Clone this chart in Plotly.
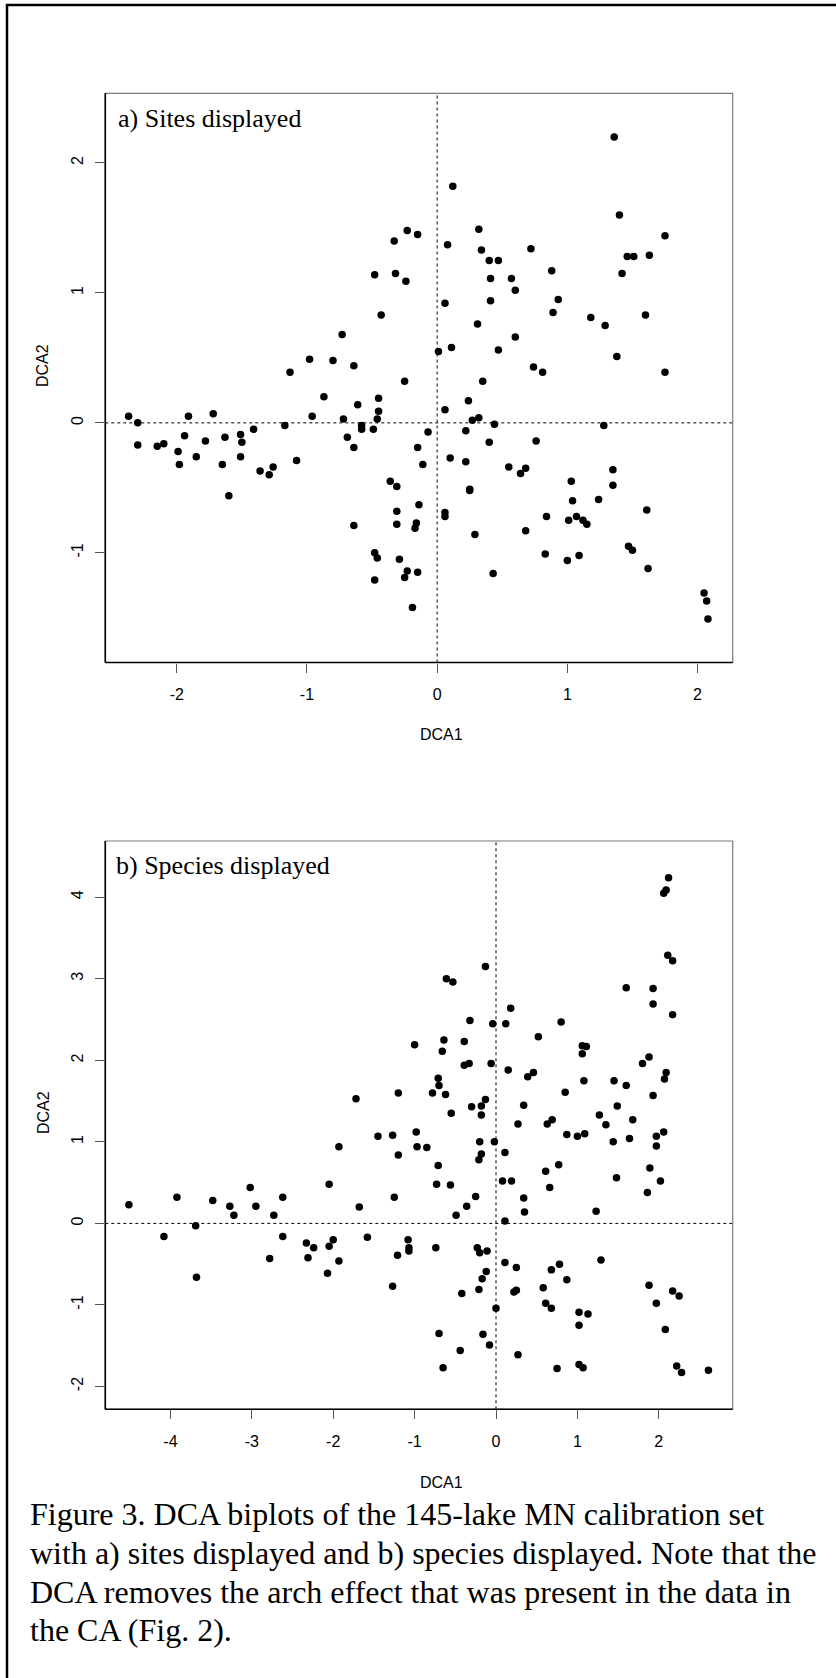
import plotly.graph_objects as go

# ---------------- data ----------------
sites_x = [
    -0.33, -0.23, -0.15, -0.48, -0.32, -0.24, -0.43, -0.73, -0.98, -0.80, -0.64, -1.13, -0.25,
    0.12, 0.08, 0.06, 0.01, 0.11,
    0.32, 0.34, 0.40, 0.47, 0.41, 0.57, 0.60, 0.41, 0.72, 0.88, 0.93, 0.89,
    0.31, 0.60, 0.47, 0.74, 0.81, 0.35,
    1.36, 1.40, 1.75, 1.46, 1.51, 1.63, 1.42, 1.18, 1.29, 1.60, 1.38, 1.75,
    -2.37, -2.30, -2.30, -2.15, -2.10, -1.99, -1.98, -1.94, -1.91, -1.85, -1.78, -1.72,
    -1.65, -1.63, -1.60, -1.51, -1.50, -1.51, -1.41, -1.36, -1.29, -1.26, -1.17, -1.08,
    -0.96, -0.87, -0.72, -0.69, -0.64, -0.61, -0.58, -0.58, -0.49, -0.46, -0.45, -0.45,
    -0.36, -0.31, -0.31, -0.31, -0.64, -0.48, -0.46, -0.48, -0.29,
    -0.23, -0.25,
    -0.15, -0.19, -0.17, -0.16, -0.14, -0.11, -0.15, -0.07,
    0.06, 0.24, 0.27, 0.32, 0.44, 0.22, 0.40, 0.76, 0.10, 0.22, 0.25, 0.25, 0.06, 0.06, 0.29, 0.43,
    0.55, 0.64, 0.68, 0.68, 0.84, 0.83, 1.00, 1.01, 1.03, 1.04, 1.07, 1.09, 1.12, 1.15, 1.24,
    1.28, 1.35, 1.35, 1.47, 1.50, 1.61, 1.62, 2.05, 2.07, 2.08,
]
sites_y = [
    1.40, 1.48, 1.45, 1.14, 1.15, 1.09, 0.83, 0.68, 0.49, 0.48, 0.44, 0.39, 0.32,
    1.82, 1.37, 0.92, 0.55, 0.58,
    1.49, 1.33, 1.25, 1.25, 1.11, 1.11, 1.02, 0.94, 1.34, 1.17, 0.95, 0.85,
    0.76, 0.66, 0.56, 0.43, 0.39, 0.32,
    2.20, 1.60, 1.44, 1.28, 1.28, 1.29, 1.15, 0.81, 0.75, 0.83, 0.51, 0.39,
    0.05, 0.00, -0.17, -0.18, -0.16, -0.22, -0.32, -0.10, 0.05, -0.26, -0.14, 0.07,
    -0.32, -0.11, -0.56, -0.09, -0.15, -0.26, -0.05, -0.37, -0.40, -0.34, -0.02, -0.29,
    0.05, 0.20, 0.03, -0.11, -0.19, 0.14, -0.02, -0.05, -0.05, 0.03, 0.19, 0.09,
    -0.45, -0.49, -0.68, -0.78, -0.79, -1.00, -1.04, -1.21, -1.05,
    -1.14, -1.19,
    -1.15, -1.42, -0.81, -0.77, -0.63, -0.32, -0.19, -0.07,
    0.10, 0.17, 0.02, 0.04, -0.01, -0.06, -0.15, -0.14, -0.27, -0.30, -0.51, -0.52, -0.69, -0.72, -0.86, -1.16,
    -0.34, -0.39, -0.35, -0.83, -0.72, -1.01, -1.06, -0.75, -0.45, -0.60, -0.72, -1.02, -0.75, -0.78, -0.59,
    -0.02, -0.36, -0.48, -0.95, -0.98, -0.67, -1.12, -1.31, -1.37, -1.51,
]

species_x = [
    -1.72, -1.20,
    -1.00, -0.61, -0.53, -0.13, -0.32, -0.04, -0.64, -0.66, -0.39, -0.39, -0.33, -0.06,
    -0.71, -0.70, -0.78, -0.62, -0.55, -0.30, -0.18, -0.13, -0.18,
    0.18, 0.12, 0.80, 0.52, 1.06, 1.11, 1.06, 0.15, 0.39, 0.46, 1.08, 0.85, 0.34,
    1.45, 1.60, 1.80, 1.88, 1.93, 1.49, 1.27, 1.68, 1.35, 2.09, 2.07,
    1.60, 1.93, 1.93, 2.17, 2.11, 2.17, 2.12, 2.09, 2.06,
    0.27, 0.63, 0.69,
    -4.51, -4.08, -3.92, -3.69, -3.68, -3.48, -3.27, -3.22, -3.02, -2.95, -2.73, -2.62,
    -2.62, -2.78, -2.33, -2.24, -2.31, -2.05, -1.93, -2.00, -2.05, -1.93, -2.07, -1.68,
    -1.58, -1.45, -1.27, -1.20, -1.25, -1.27, -1.21,
    -0.98, -0.97, -0.85, -0.71, -0.73, -0.56, -0.36, -0.49, -0.25,
    -0.20, -0.18, -0.21, -0.02, 0.11, 0.08, 0.19, 0.34, 0.35, 0.11,
    0.87, 1.00, 1.09, 1.44, 1.64, 1.97, 2.06, 1.97,
    0.61, 0.77, 0.66, 1.48, 1.89, 2.02, 1.86, 1.23,
    -1.08, -1.07, -1.07, -0.74, -0.23, -0.20, -0.11, -0.12, -0.17, -0.21, -0.42, 0.00,
    -0.70, -0.44, -0.65, -0.16, -0.08,
    0.11, 0.25, 0.22, 0.25, 0.27,
    0.58, 0.68, 0.78, 0.87, 0.61, 0.68, 0.75,
    1.02, 1.13, 1.02, 1.02, 1.07,
    1.29, 1.88, 1.97, 2.17, 2.25, 2.08, 2.22, 2.28, 2.61,
]
species_y = [
    1.53, 1.60,
    2.19, 3.00, 2.96, 3.15, 2.49, 2.45, 2.25, 2.11, 2.23, 1.94, 1.96, 1.96,
    1.78, 1.69, 1.60, 1.58, 1.35, 1.43, 1.44, 1.52, 1.33,
    2.64, 2.45, 2.47, 2.29, 2.18, 2.17, 2.08, 1.88, 1.80, 1.85, 1.75, 1.61, 1.45,
    1.75, 1.69, 1.96, 2.04, 1.57, 1.44, 1.33, 1.27, 1.21, 1.85, 1.77,
    2.89, 2.88, 2.69, 2.56, 3.29, 3.22, 4.24, 4.09, 4.05,
    1.22, 1.22, 1.27,
    0.23, -0.16, 0.32, -0.03, -0.66, 0.28, 0.21, 0.10, 0.44, 0.21, 0.10, 0.32,
    -0.16, -0.43, -0.24, -0.30, -0.42, 0.48, 0.94, -0.20, -0.28, -0.46, -0.61, 0.20,
    -0.17, 1.07, 1.08, 0.84, 0.32, -0.77, -0.39,
    1.12, 0.94, 0.93, 0.71, 0.48, 0.47, 0.21, 0.10, 0.33,
    1.00, 0.85, 0.78, 1.00, 0.87, 0.52, 0.52, 0.31, 0.14, 0.03,
    1.09, 1.07, 1.10, 1.00, 1.04, 1.07, 1.12, 0.95,
    0.64, 0.72, 0.44, 0.56, 0.68, 0.52, 0.38, 0.15,
    -0.20, -0.30, -0.34, -0.30, -0.30, -0.36, -0.34, -0.59, -0.68, -0.81, -0.86, -1.04,
    -1.35, -1.56, -1.77, -1.36, -1.49,
    -0.48, -0.54, -0.84, -0.82, -1.61,
    -0.79, -0.57, -0.50, -0.69, -0.98, -1.04, -1.78,
    -1.09, -1.11, -1.25, -1.73, -1.77,
    -0.45, -0.76, -0.98, -0.83, -0.89, -1.30, -1.75, -1.83, -1.80,
]

a_xticks = [-2, -1, 0, 1, 2]
a_yticks = [-1, 0, 1, 2]
b_xticks = [-4, -3, -2, -1, 0, 1, 2]
b_yticks = [-2, -1, 0, 1, 2, 3, 4]

panel_titles = ["a) Sites displayed", "b) Species displayed"]
axis_x_title = "DCA1"
axis_y_title = "DCA2"
caption_lines = [
    "Figure 3. DCA biplots of the 145-lake MN calibration set",
    "with a) sites displayed and b) species displayed. Note that the",
    "DCA removes the arch effect that was present in the data in",
    "the CA (Fig. 2).",
]

# ---------------- layout helpers ----------------
W, H = 836, 1678
SANS = "Arial, 'Liberation Sans', sans-serif"
SERIF = "'Times New Roman', 'Liberation Serif', serif"


def px(x):
    return x / W


def py(y):
    return 1 - y / H


fig = go.Figure()
marker = dict(color="black", size=7.5, line=dict(width=0))
fig.add_trace(go.Scatter(x=sites_x, y=sites_y, mode="markers", marker=marker,
                         xaxis="x", yaxis="y", hoverinfo="skip"))
fig.add_trace(go.Scatter(x=species_x, y=species_y, mode="markers", marker=marker,
                         xaxis="x2", yaxis="y2", hoverinfo="skip"))

left, right = 105.3, 732.7
a_top, a_bot = 93.3, 662.5
b_top, b_bot = 841.0, 1409.3


def fmt(v):
    return str(v)


common = dict(showgrid=False, zeroline=False, showline=False, ticks="outside",
              ticklen=9, tickwidth=1, tickcolor="#555555",
              tickfont=dict(family=SANS, size=16, color="black"))

fig.update_layout(
    width=W, height=H, autosize=False,
    margin=dict(l=0, r=0, t=0, b=0),
    paper_bgcolor="white", plot_bgcolor="white", showlegend=False,
    xaxis=dict(domain=[px(left), px(right)], range=[-2.549, 2.27], anchor="y",
               tickvals=a_xticks, ticktext=[fmt(v) for v in a_xticks],
               ticklabelstandoff=8, **common),
    yaxis=dict(domain=[py(a_bot), py(a_top)], range=[-1.844, 2.536], anchor="x",
               tickvals=a_yticks, ticktext=[fmt(v) for v in a_yticks],
               tickangle=-90, ticklabelstandoff=6, **common),
    xaxis2=dict(domain=[px(left), px(right)], range=[-4.80, 2.908], anchor="y2",
                tickvals=b_xticks, ticktext=[fmt(v) for v in b_xticks],
                ticklabelstandoff=8, **common),
    yaxis2=dict(domain=[py(b_bot), py(b_top)], range=[-2.28, 4.69], anchor="x2",
                tickvals=b_yticks, ticktext=[fmt(v) for v in b_yticks],
                tickangle=-90, ticklabelstandoff=6, **common),
)

shapes = []
for xa, ya in (("x", "y"), ("x2", "y2")):
    xd, yd = xa + " domain", ya + " domain"
    # dotted zero lines
    shapes.append(dict(type="line", xref=xa, yref=yd, x0=0, x1=0, y0=0, y1=1,
                       line=dict(color="black", width=1, dash="dot"), layer="below"))
    shapes.append(dict(type="line", xref=xd, yref=ya, x0=0, x1=1, y0=0, y1=0,
                       line=dict(color="black", width=1, dash="dot"), layer="below"))
    # box
    shapes.append(dict(type="rect", xref=xd, yref=yd, x0=0, x1=1, y0=0, y1=1,
                       line=dict(color="#7a7a7a", width=1.2)))
    shapes.append(dict(type="line", xref=xd, yref=yd, x0=0, x1=0, y0=0, y1=1,
                       line=dict(color="black", width=1.6)))
    shapes.append(dict(type="line", xref=xd, yref=yd, x0=0, x1=1, y0=0, y1=0,
                       line=dict(color="black", width=1.6)))

# outer frame (left and top edges)
shapes.append(dict(type="line", xref="paper", yref="paper", x0=px(7), x1=px(7),
                   y0=0, y1=py(5), line=dict(color="black", width=2.5)))
shapes.append(dict(type="line", xref="paper", yref="paper", x0=px(5.8), x1=1,
                   y0=py(5), y1=py(5), line=dict(color="black", width=2.5)))
fig.update_layout(shapes=shapes)

ann = []
# panel labels
ann.append(dict(text=panel_titles[0], xref="paper", yref="paper", x=px(116), y=py(118.5),
                xanchor="left", yanchor="middle", showarrow=False,
                font=dict(family=SERIF, size=26, color="black")))
ann.append(dict(text=panel_titles[1], xref="paper", yref="paper", x=px(114), y=py(865),
                xanchor="left", yanchor="middle", showarrow=False,
                font=dict(family=SERIF, size=26, color="black")))
# axis titles
for yc in (734, 1482.7):
    ann.append(dict(text=axis_x_title, xref="paper", yref="paper", x=px(441), y=py(yc),
                    xanchor="center", yanchor="middle", showarrow=False,
                    font=dict(family=SANS, size=16, color="black")))
for yc in (366, 1113):
    ann.append(dict(text=axis_y_title, xref="paper", yref="paper", x=px(43), y=py(yc),
                    xanchor="center", yanchor="middle", showarrow=False, textangle=-90,
                    font=dict(family=SANS, size=16, color="black")))
# caption
for line, yc in zip(caption_lines, (1514, 1553, 1592, 1630)):
    ann.append(dict(text=line, xref="paper", yref="paper", x=px(28), y=py(yc),
                    xanchor="left", yanchor="middle", showarrow=False,
                    font=dict(family=SERIF, size=32, color="black")))
fig.update_layout(annotations=ann)

fig.write_html("out.html")
